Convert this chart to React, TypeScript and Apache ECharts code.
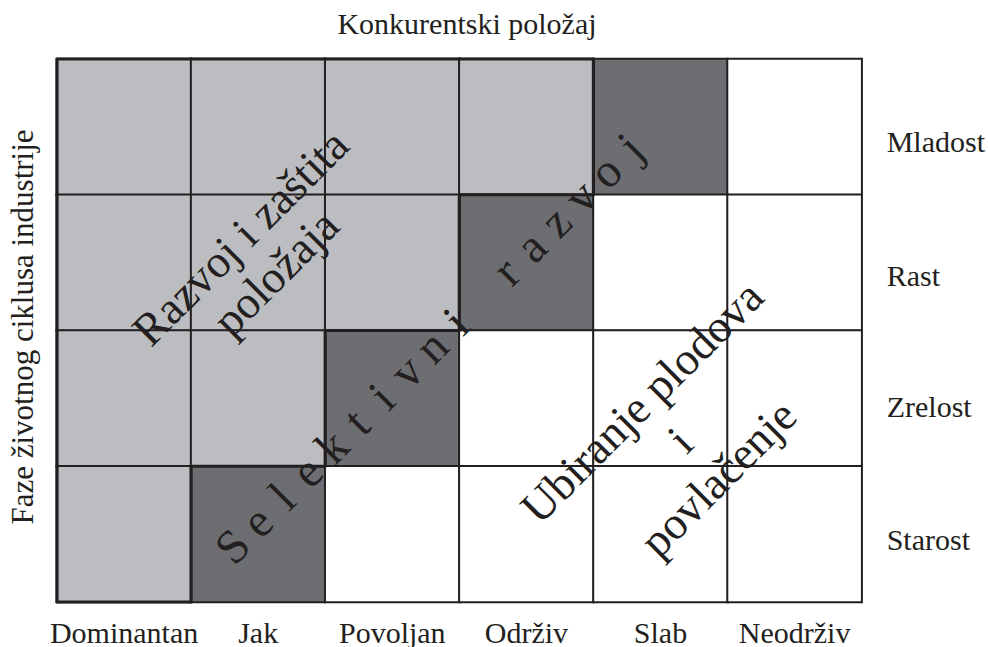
import React, { useEffect, useRef } from "react";
import * as echarts from "echarts";

const positions = ["Dominantan", "Jak", "Povoljan", "Održiv", "Slab", "Neodrživ"];
const phases = ["Mladost", "Rast", "Zrelost", "Starost"];
// 0 = white, 1 = light grey, 2 = dark grey
const mladost = [1, 1, 1, 1, 2, 0];
const rast = [1, 1, 1, 2, 0, 0];
const zrelost = [1, 1, 2, 0, 0, 0];
const starost = [1, 2, 0, 0, 0, 0];
const xTitle = "Konkurentski položaj";
const yTitle = "Faze životnog ciklusa industrije";
const zoneRazvoj = "Razvoj i zaštita\npoložaja";
const zoneSelektivni = "Selektivni razvoj";
const zoneUbiranje = "Ubiranje plodova\ni\npovlačenje";

const FONT = "Liberation Serif";
const INK = "#231f20";
const labelShift = [30, 26, 17, 10];

export default function App() {
  const ref = useRef<HTMLDivElement>(null);
  useEffect(() => {
    if (!ref.current) return;
    const chart = echarts.init(ref.current, null, { renderer: "svg" });
    const rows = [mladost, rast, zrelost, starost];
    const data: number[][] = [];
    rows.forEach((r, yi) => r.forEach((v, xi) => data.push([xi, yi, v])));
    const lightCells = data.filter((d) => d[2] === 1).map((d) => [d[0], d[1]]);
    const isLight = (xi: number, yi: number) =>
      yi >= 0 && yi < rows.length && xi >= 0 && xi < rows[yi].length && rows[yi][xi] === 1;
    const zoneText = (text: string, x: number, y: number, fontSize: number, lineHeight: number) => ({
      type: "text",
      x,
      y,
      z: 100,
      rotation: Math.PI / 4,
      style: {
        text,
        fontFamily: FONT,
        fontSize,
        lineHeight,
        fill: INK,
        align: "center",
        verticalAlign: "middle",
      },
    });
    // letter-spaced diagonal label
    const chars = zoneSelektivni.split("");
    const start = [232, 546];
    const end = [630, 146];
    const n = chars.length - 1;
    const letterEls = chars
      .map((ch, i) =>
        ch === " "
          ? null
          : zoneText(ch, start[0] + ((end[0] - start[0]) * i) / n, start[1] + ((end[1] - start[1]) * i) / n, 48, 48)
      )
      .filter(Boolean);
    const rich: Record<string, any> = {};
    labelShift.forEach((lh, i) => {
      rich["r" + i] = { fontFamily: FONT, fontSize: 30, color: INK, lineHeight: lh };
    });
    chart.setOption({
      animation: false,
      backgroundColor: "#ffffff",
      title: {
        text: xTitle,
        left: 462,
        top: 3,
        textAlign: "center",
        textStyle: { fontFamily: FONT, fontSize: 30, fontWeight: "normal", color: INK },
      },
      grid: { left: 57, top: 59, width: 805, height: 546 },
      xAxis: {
        type: "category",
        data: positions,
        position: "bottom",
        axisLine: { show: false },
        axisTick: { show: false },
        splitLine: { show: false },
        axisLabel: { fontFamily: FONT, fontSize: 30, color: INK, margin: 15, interval: 0 },
      },
      yAxis: {
        type: "category",
        data: phases,
        inverse: true,
        position: "right",
        axisLine: { show: false },
        axisTick: { show: false },
        splitLine: { show: false },
        axisLabel: {
          fontFamily: FONT,
          fontSize: 30,
          color: INK,
          margin: 25,
          align: "left",
          verticalAlign: "top",
          formatter: (v: string, i: number) => `{r${i}|${v}}`,
          rich,
        },
      },
      visualMap: {
        type: "piecewise",
        show: false,
        dimension: 2,
        seriesIndex: 0,
        pieces: [
          { value: 0, color: "#ffffff" },
          { value: 1, color: "#bcbdc0" },
          { value: 2, color: "#6d6e71" },
        ],
      },
      series: [
        {
          type: "heatmap",
          data,
          itemStyle: { borderColor: INK, borderWidth: 2 },
          emphasis: { disabled: true },
          label: { show: false },
        },
        {
          type: "custom",
          data: lightCells,
          silent: true,
          z: 5,
          renderItem: (params: any, api: any) => {
            const xi = api.value(0);
            const yi = api.value(1);
            const c = api.coord([xi, yi]);
            const s = api.size([1, 1]);
            const x0 = c[0] - s[0] / 2;
            const x1 = c[0] + s[0] / 2;
            const y0 = c[1] - s[1] / 2;
            const y1 = c[1] + s[1] / 2;
            const style = { stroke: INK, lineWidth: 3.2, fill: null };
            const children: any[] = [];
            if (!isLight(xi, yi - 1)) children.push({ type: "line", shape: { x1: x0 - 1, y1: y0, x2: x1 + 1, y2: y0 }, style });
            if (!isLight(xi, yi + 1)) children.push({ type: "line", shape: { x1: x0 - 1, y1: y1, x2: x1 + 1, y2: y1 }, style });
            if (!isLight(xi - 1, yi)) children.push({ type: "line", shape: { x1: x0, y1: y0 - 1, x2: x0, y2: y1 + 1 }, style });
            if (!isLight(xi + 1, yi)) children.push({ type: "line", shape: { x1: x1, y1: y0 - 1, x2: x1, y2: y1 + 1 }, style });
            return { type: "group", children };
          },
        },
      ],
      graphic: [
        {
          type: "text",
          x: 22,
          y: 327,
          z: 100,
          rotation: Math.PI / 2,
          style: {
            text: yTitle,
            fontFamily: FONT,
            fontSize: 31,
            fill: INK,
            align: "center",
            verticalAlign: "middle",
          },
        },
        zoneText(zoneRazvoj, 258, 255, 46, 50),
        ...letterEls,
        zoneText(zoneUbiranje, 680, 440, 46, 54),
      ],
    });
    return () => chart.dispose();
  }, []);
  return (
    <div
      ref={ref}
      style={{ position: "fixed", left: 0, top: 0, width: 988, height: 647, background: "#fff" }}
    />
  );
}
